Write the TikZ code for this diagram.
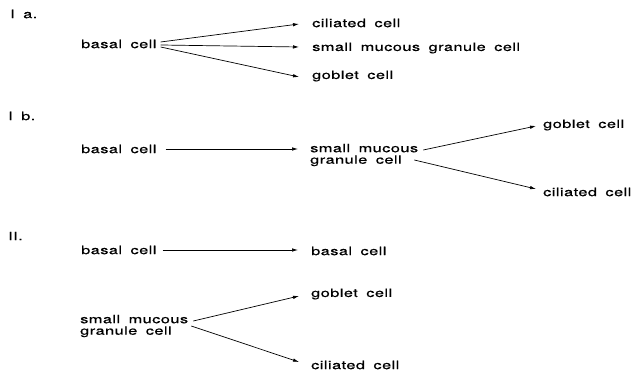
\documentclass[tikz,border=0pt]{standalone}
\usepackage{fontspec}
\setmainfont[FakeStretch=1.42,WordSpace=1.7,LetterSpace=4,FakeBold=0.6]{TeX Gyre Heros}
\usetikzlibrary{arrows.meta}
\begin{document}
\begin{tikzpicture}[x=1pt,y=1pt,
  lbl/.style={anchor=west,inner sep=0pt,font=\fontsize{11.5}{11.5}\selectfont,align=left},
  conn/.style={line width=0.7pt,-{Latex[length=6pt,width=3.5pt]}}]
\useasboundingbox (0,0) rectangle (637,374);

% ---- I a. : basal cell gives rise to all three types
\node[lbl] (ta) at (10,360) {I a.};
\node[lbl] (a1) at (81,330) {basal cell};
\node[lbl] (a2) at (312,351) {ciliated cell};
\node[lbl] (a3) at (312,326) {small mucous granule cell};
\node[lbl] (a4) at (312,298) {goblet cell};
\draw[conn] ([shift={(4pt,2pt)}]a1.east) -- ([xshift=-13pt,yshift=-1pt]a2.west);
\draw[conn] ([shift={(4pt,-1pt)}]a1.east) -- ([xshift=-13pt,yshift=1pt]a3.west);
\draw[conn] ([shift={(4pt,-3pt)}]a1.east) -- ([xshift=-13pt,yshift=-1pt]a4.west);

% ---- I b. : basal cell -> small mucous granule cell -> goblet / ciliated
\node[lbl] (tb) at (8,258) {I b.};
\node[lbl] (b1) at (81,225) {basal cell};
\node[lbl] (b2) at (310,219) {small mucous\\granule cell};
\node[lbl] (b3) at (543,249) {goblet cell};
\node[lbl] (b4) at (543,182) {ciliated cell};
\draw[conn] ([xshift=9pt]b1.east) -- ([xshift=-12pt]b2.west |- b1.east);
\draw[conn] ([shift={(5pt,5pt)}]b2.east) -- ([xshift=-7pt,yshift=-1pt]b3.west);
\draw[conn] ([shift={(-4pt,-5pt)}]b2.east) -- ([xshift=-7pt,yshift=3pt]b4.west);

% ---- II. : separate lineages
\node[lbl] (tc) at (8,138) {II.};
\node[lbl] (c1) at (81,124) {basal cell};
\node[lbl] (c2) at (311,123) {basal cell};
\node[lbl] (c3) at (80,48) {small mucous\\granule cell};
\node[lbl] (c4) at (311,80) {goblet cell};
\node[lbl] (c5) at (311,9) {ciliated cell};
\draw[conn] ([xshift=6pt]c1.east) -- ([xshift=-13pt]c2.west |- c1.east);
\draw[conn] ([shift={(5pt,5pt)}]c3.east) -- ([xshift=-12pt,yshift=-2pt]c4.west);
\draw[conn] ([shift={(3pt,0pt)}]c3.east) -- ([xshift=-12pt,yshift=3pt]c5.west);
\end{tikzpicture}
\end{document}
